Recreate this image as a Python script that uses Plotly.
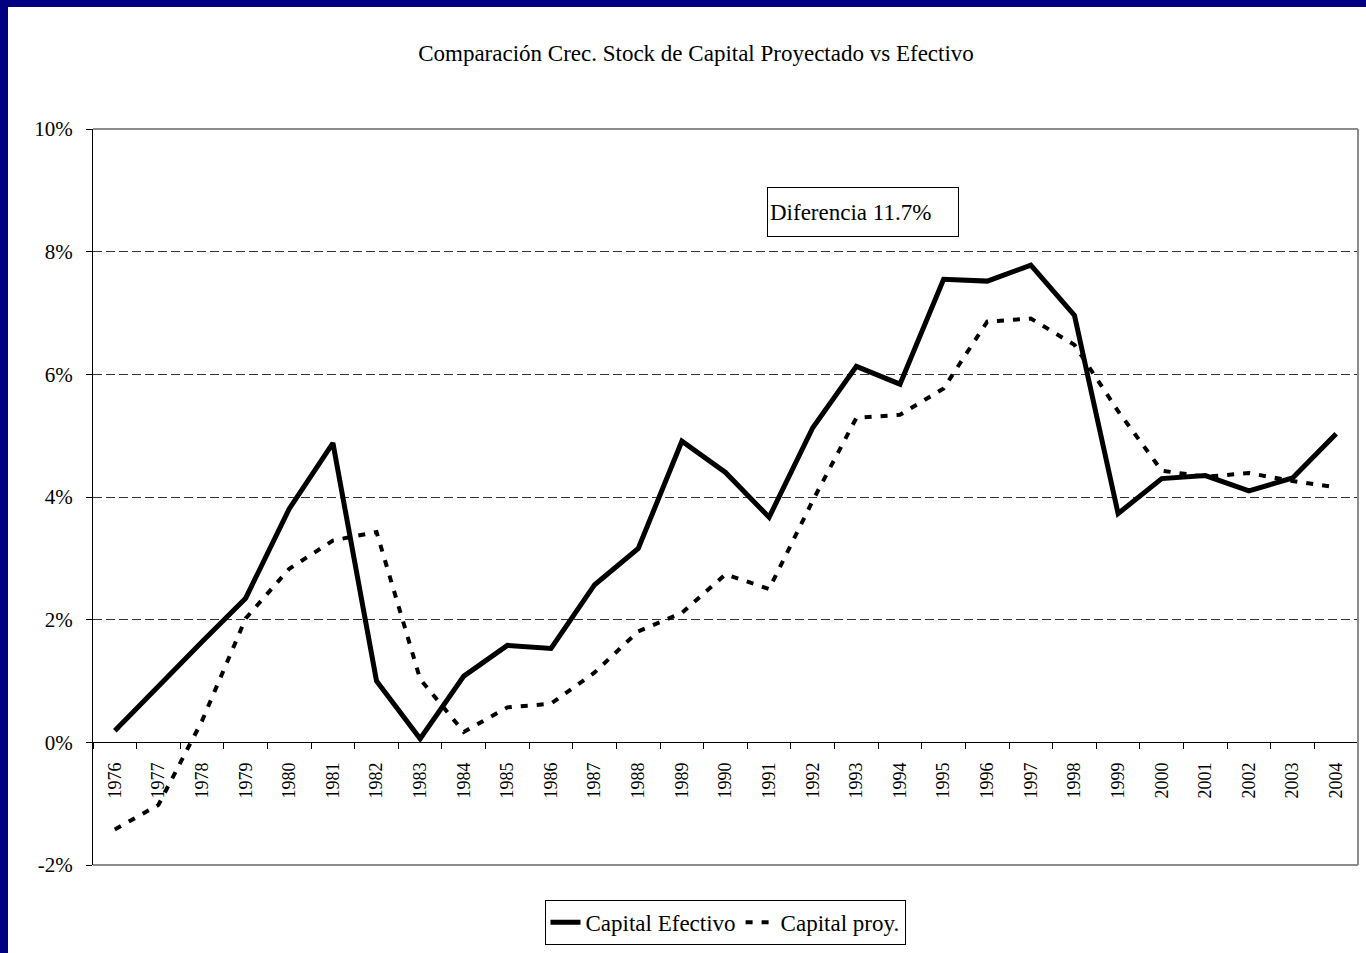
import plotly.graph_objects as go

years = [str(y) for y in range(1976, 2005)]
capital_efectivo = [0.19, 0.92, 1.64, 2.35, 3.81, 4.88, 1.00, 0.06, 1.08, 1.58,
                    1.53, 2.57, 3.16, 4.91, 4.40, 3.67, 5.13, 6.13, 5.84, 7.55,
                    7.52, 7.78, 6.96, 3.73, 4.30, 4.35, 4.10, 4.31, 5.03]
capital_proy = [-1.42, -1.02, 0.35, 2.02, 2.83, 3.29, 3.43, 1.03, 0.17, 0.57,
                0.63, 1.14, 1.81, 2.11, 2.74, 2.50, 3.94, 5.29, 5.34, 5.77,
                6.86, 6.91, 6.48, 5.40, 4.43, 4.33, 4.39, 4.26, 4.16]
y_ticks = [-2, 0, 2, 4, 6, 8, 10]
title_text = "Comparación Crec. Stock de Capital Proyectado vs Efectivo"
note_text = "Diferencia 11.7%"

FONT = "Palatino Linotype, Book Antiqua, Palatino, Liberation Serif, serif"

W, H = 1366, 953
L, R, T, B = 93, 1358, 129, 871


def px(x):
    return (x - L) / (R - L)


def py(y):
    return (B - y) / (B - T)


fig = go.Figure()
fig.add_trace(go.Scatter(x=years, y=capital_efectivo, mode="lines",
                         name="Capital Efectivo",
                         line=dict(color="black", width=5)))
fig.add_trace(go.Scatter(x=years, y=capital_proy, mode="lines",
                         name="Capital proy.",
                         line=dict(color="black", width=4, dash="7px,9px")))

ymin, ymax = y_ticks[0], y_ticks[-1]
shapes = [
    # white page area over navy frame
    dict(type="rect", xref="paper", yref="paper", layer="below",
         x0=px(8), x1=px(W + 60), y0=py(H + 60), y1=py(6),
         line=dict(width=0), fillcolor="white"),
    # plot border top/right/bottom (gray)
    dict(type="line", xref="paper", yref="paper", x0=0, x1=1, y0=1, y1=1,
         line=dict(color="#8c8c8c", width=2)),
    dict(type="line", xref="paper", yref="paper", x0=1, x1=1, y0=0, y1=1,
         line=dict(color="#8c8c8c", width=2)),
    dict(type="line", xref="paper", yref="paper", x0=0, x1=1, y0=0, y1=0,
         line=dict(color="#8c8c8c", width=2)),
]

fig.update_layout(
    width=W, height=H,
    margin=dict(l=L, r=W - R, t=T, b=H - B),
    paper_bgcolor="#000080",
    plot_bgcolor="white",
    font=dict(family=FONT, color="black"),
    title=dict(text=title_text, x=696 / W, xref="container", xanchor="center",
               y=1 - 53 / H, yref="container", yanchor="middle",
               font=dict(family=FONT, size=23, color="black")),
    showlegend=True,
    legend=dict(orientation="h", x=px(725), xanchor="center", y=py(906),
                yanchor="top", bgcolor="white", bordercolor="black",
                borderwidth=1, font=dict(family=FONT, size=23, color="black"),
                tracegroupgap=0),
    shapes=shapes,
    annotations=[dict(text=note_text, xref="paper", yref="paper",
                      x=px(863), y=py(213), xanchor="center", yanchor="middle",
                      showarrow=False, width=186, height=44, align="left",
                      bordercolor="black", borderwidth=1, borderpad=2,
                      bgcolor="white",
                      font=dict(family=FONT, size=23, color="black"))],
)

fig.update_yaxes(range=[ymin, ymax], tickvals=y_ticks,
                 ticktext=[f"{v}%" for v in y_ticks],
                 showline=True, linecolor="black", linewidth=1,
                 ticks="outside", ticklen=6, tickcolor="black",
                 ticklabelstandoff=9,
                 showgrid=True, gridcolor="#333333", gridwidth=1,
                 griddash="9px,4px", zeroline=False,
                 tickfont=dict(family=FONT, size=21, color="black"),
                 domain=[0, 1])

fig.update_xaxes(type="category", range=[-0.5, len(years) - 0.5],
                 anchor="free", position=(0 - ymin) / (ymax - ymin),
                 showline=True, linecolor="black", linewidth=1,
                 ticks="outside", ticklen=6, tickcolor="black",
                 ticklabelstandoff=12,
                 tickson="boundaries", tickangle=-90, showgrid=False,
                 zeroline=False,
                 tickfont=dict(family=FONT, size=18, color="black"))

fig.write_html("out.html",
               config={"displayModeBar": False},
               post_script="document.body.style.margin='0px';")
